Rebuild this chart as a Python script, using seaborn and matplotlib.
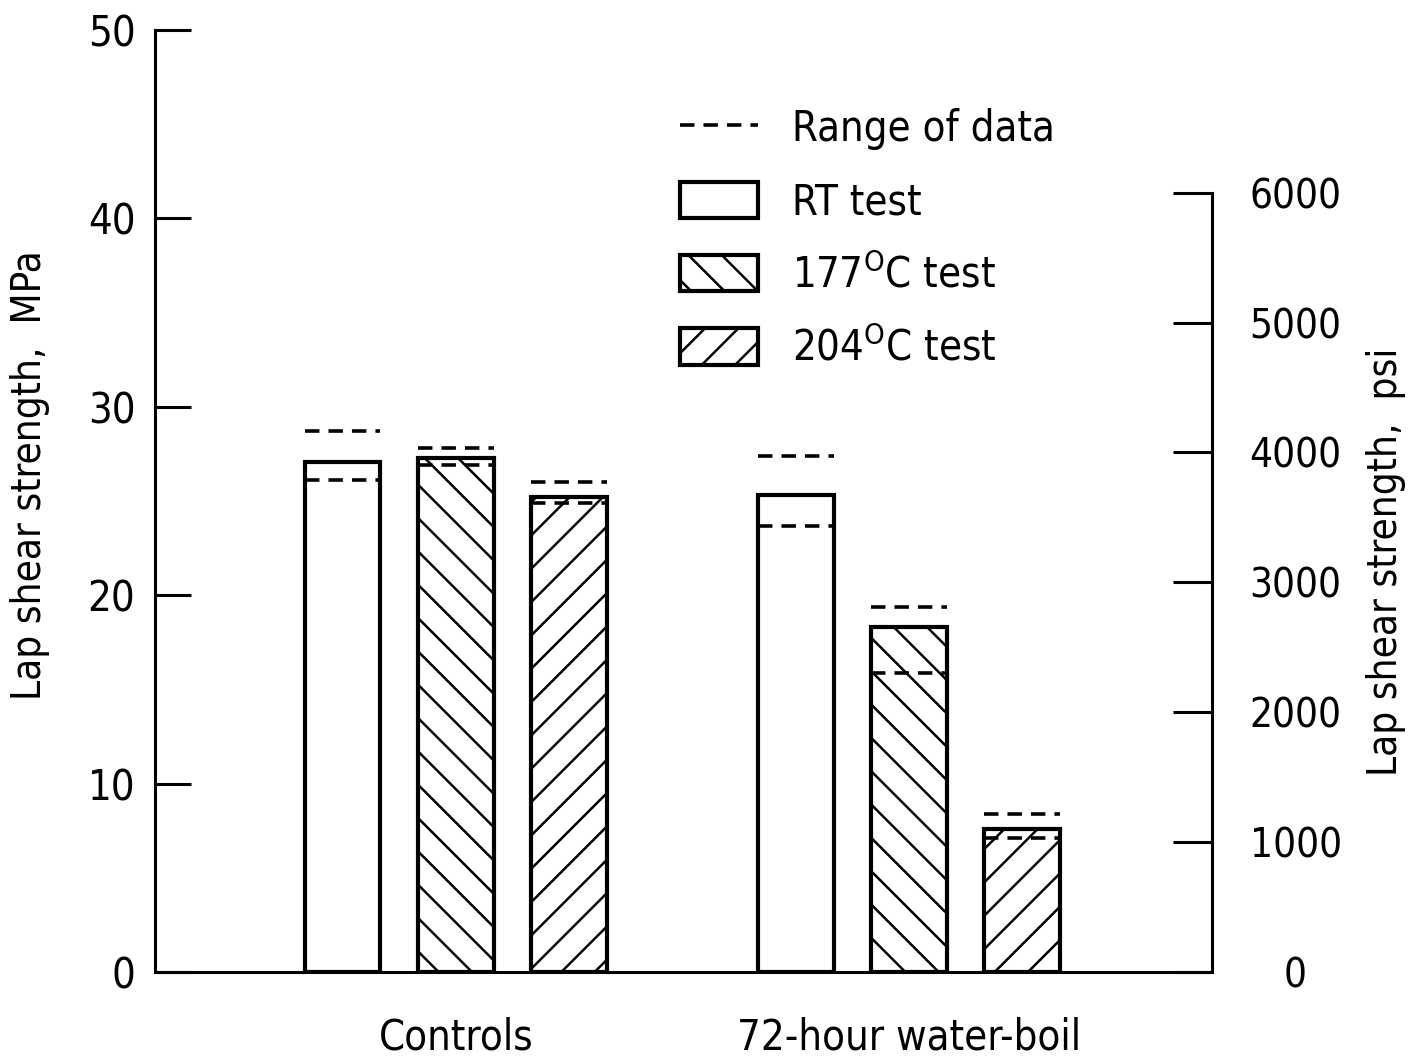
import matplotlib
matplotlib.use("Agg")
import matplotlib.pyplot as plt
import seaborn as sns
import pandas as pd
from matplotlib.lines import Line2D
from matplotlib.patches import Patch

# bar heights (MPa)
groups = ["Controls", "72-hour water-boil"]
tests = ["RT test", "177$^\\mathregular{O}$C test", "204$^\\mathregular{O}$C test"]
rt_mean = [27.1, 25.3]
t177_mean = [27.3, 18.3]
t204_mean = [25.2, 7.6]

# range of data (low, high) per bar
rt_low = [26.1, 23.7]
rt_high = [28.7, 27.4]
t177_low = [26.9, 15.9]
t177_high = [27.8, 19.4]
t204_low = [24.9, 7.1]
t204_high = [26.0, 8.4]

hatches = ["", "\\\\", "//"]
MPA_TO_PSI = 145.038

rows = []
for test, vals in zip(tests, [rt_mean, t177_mean, t204_mean]):
    for g, v in zip(groups, vals):
        rows.append({"group": g, "test": test, "strength": v})
df = pd.DataFrame(rows)
lows = [rt_low, t177_low, t204_low]
highs = [rt_high, t177_high, t204_high]

sns.set_style("ticks")
plt.rcParams["font.family"] = ["DejaVu Sans"]
plt.rcParams["font.stretch"] = "condensed"
for key in ["text.color", "axes.labelcolor", "xtick.color", "ytick.color",
            "axes.edgecolor"]:
    plt.rcParams[key] = "black"
plt.rcParams["hatch.linewidth"] = 0.9
plt.rcParams["axes.linewidth"] = 1.1

fig = plt.figure(figsize=(7.04, 5.28), dpi=200)
ax = fig.add_axes([0.110, 0.0795, 0.751, 0.892])

sns.barplot(data=df, x="group", y="strength", hue="test", order=groups,
            hue_order=tests, palette=["white"] * 3, edgecolor="black",
            linewidth=1.5, width=0.75, gap=0.33, legend=False, ax=ax)

# hatching per test and dashed range-of-data marks over each bar
dash = (0, (4, 2.5))
for cont, hatch, lo, hi in zip(ax.containers, hatches, lows, highs):
    for bar, l, h in zip(cont.patches, lo, hi):
        bar.set_hatch(hatch)
        x0 = bar.get_x()
        ax.hlines([l, h], x0, x0 + bar.get_width(), colors="black",
                  linewidth=1.3, linestyles=dash, zorder=5)

ax.set_xlim(-0.664, 1.669)
ax.set_ylim(0, 50)
ax.set_yticks([0, 10, 20, 30, 40, 50])
ax.tick_params(axis="y", direction="in", length=13, width=1.1, pad=7,
               labelsize=15)
ax.tick_params(axis="x", length=0, pad=16, labelsize=15)
ax.set_xlabel("")
ax.set_ylabel("Lap shear strength,  MPa", fontsize=14.5, va="center")
ax.yaxis.set_label_coords(-0.118, 0.528)
ax.spines["top"].set_visible(False)
ax.spines["right"].set_visible(False)

# secondary psi axis, spine only up to 6000
ax2 = ax.twinx()
ax2.set_ylim(0, 50 * MPA_TO_PSI)
ax2.set_yticks([0, 1000, 2000, 3000, 4000, 5000, 6000])
ax2.spines["right"].set_bounds(0, 6000)
ax2.spines["top"].set_visible(False)
ax2.spines["left"].set_visible(False)
ax2.spines["bottom"].set_visible(False)
ax2.tick_params(axis="y", direction="in", length=14, width=1.1, pad=30,
                labelsize=14.5)
for lab in ax2.get_yticklabels():
    lab.set_horizontalalignment("center")
ax2.set_ylabel("Lap shear strength,  psi", fontsize=14.5, va="center")
ax2.yaxis.set_label_coords(1.164, 0.435)

handles = [Line2D([], [], color="black", linewidth=1.3, linestyle=dash)]
for hatch in hatches:
    handles.append(Patch(facecolor="white", edgecolor="black",
                         linewidth=1.5, hatch=hatch))
labels = ["Range of data"] + tests
ax.legend(handles, labels, loc="upper left", bbox_to_anchor=(0.497, 0.917),
          frameon=False, fontsize=15, handlelength=1.87, handleheight=0.96,
          labelspacing=0.74, handletextpad=0.8, borderpad=0, borderaxespad=0)

fig.savefig("out.png", dpi=200)
